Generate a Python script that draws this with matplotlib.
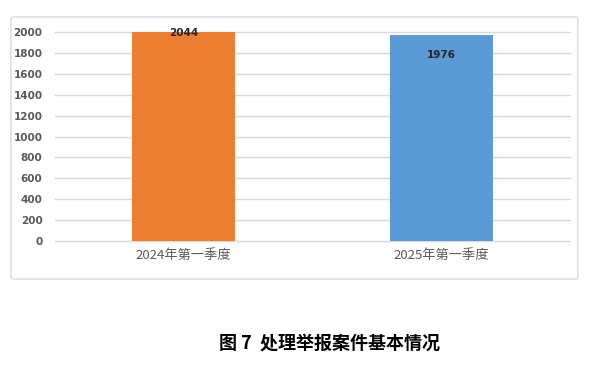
import matplotlib
matplotlib.use("Agg")
import matplotlib.pyplot as plt
from matplotlib.patches import FancyBboxPatch

plt.rcParams['font.family'] = ['Noto Sans CJK SC', 'DejaVu Sans']

categories = ["2024年第一季度", "2025年第一季度"]
values = [2044, 1976]
colors = ["#ED7D31", "#5B9BD5"]
y_max = 2000
y_ticks = list(range(0, 2001, 200))
caption = "图 7  处理举报案件基本情况"

fig = plt.figure(figsize=(6.03, 3.66), dpi=100)

# light frame round the chart area
frame = FancyBboxPatch((0.0182, 0.2377), 0.940, 0.716, boxstyle="round,pad=0,rounding_size=0.005",
                       transform=fig.transFigure, facecolor="none", edgecolor="#D9D9D9",
                       linewidth=1.0, zorder=-1)
fig.patches.append(frame)

ax = fig.add_axes([0.0912, 0.3415, 0.854, 0.571])
ax.set_zorder(2)
ax.set_facecolor("none")
x = range(len(categories))
ax.bar(x, values, width=0.40, color=colors, zorder=3)

ax.set_xlim(-0.5, len(categories) - 0.5)
ax.set_ylim(0, y_max)
ax.set_yticks(y_ticks)
ax.set_xticks(list(x))
ax.set_xticklabels(categories)
ax.grid(axis="y", color="#D9D9D9", linewidth=1.0, zorder=0)
for gl in ax.get_ygridlines():
    gl.set_clip_on(False)
ax.tick_params(axis="both", length=0, colors="#595959")
ax.tick_params(axis="y", pad=9, labelsize=7.5)
ax.tick_params(axis="x", pad=6, labelsize=9.5)
for lbl in ax.get_yticklabels():
    lbl.set_fontweight("bold")
    lbl.set_family(["DejaVu Sans"])
for s in ax.spines.values():
    s.set_visible(False)

for i, v in enumerate(values):
    if v > y_max:
        y = y_max - 10
    else:
        y = v - 196
    ax.text(i, y, str(v), ha="center", va="center", fontsize=7.5, fontweight="bold",
            color="#262626", family=["DejaVu Sans"], zorder=4, clip_on=False)

fig.text(0.547, 0.063, caption, ha="center", va="center", fontsize=13, fontweight="bold",
         color="black")

fig.savefig("out.png", dpi=100)
